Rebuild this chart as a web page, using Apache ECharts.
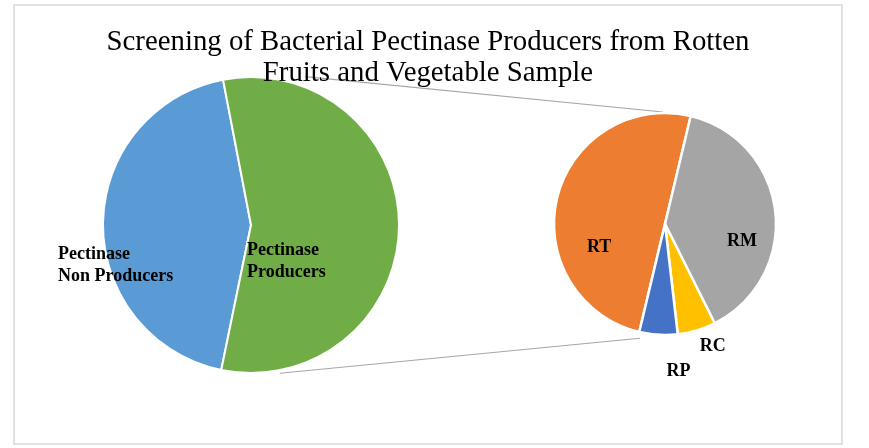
<!DOCTYPE html>
<html>
<head>
<meta charset="utf-8">
<script src="https://cdn.jsdelivr.net/npm/echarts@6/dist/echarts.min.js"></script>
<style>
  html, body { margin: 0; padding: 0; background: #fff; }
  #chart { width: 869px; height: 448px; }
</style>
</head>
<body>
<div id="chart"></div>
<script>
// main pie
var mainNames = ['Pectinase\nNon Producers', 'Pectinase\nProducers'];
var mainValues = [14, 18];
var mainColors = ['#5B9BD5', '#70AD47'];

// second pie (split of producers)
var subNames = ['RT', 'RM', 'RC', 'RP'];
var subValues = [9, 7, 1, 1];
var subColors = ['#ED7D31', '#A5A5A5', '#FFC000', '#4472C4'];

var titleText = 'Screening of Bacterial Pectinase Producers from Rotten\nFruits and Vegetable Sample';

// layout
var bigC = [251, 225], bigR = 148;
var smallC = [665, 224], smallR = 111;
var bigStart = 258.4;   // echarts degrees, first slice starts here going clockwise
var smallStart = 256.6;

// label nudges (from default inside spot) to sit where the reference has them
var mainLabelShift = [[-116, 41], [-81, 36]];
var subLabelShift = [[-9, 37], [19, 24], [31, 66], [17, 89]];

// point on a circle, angle in echarts degrees (ccw from 3 o'clock)
function onCircle(c, r, deg) {
  var a = deg * Math.PI / 180;
  return [c[0] + r * Math.cos(a), c[1] - r * Math.sin(a)];
}

// connector lines between the two pies
var topFrom = onCircle(bigC, bigR + 10, 70);
var botFrom = onCircle(bigC, bigR + 3, -79);
var topTo = onCircle(smallC, smallR + 1, 91);
var botTo = onCircle(smallC, smallR + 6, smallStart + 1);

var mainData = [], subData = [];
for (var i = 0; i < mainNames.length; i++) {
  mainData.push({ name: mainNames[i], value: mainValues[i], itemStyle: { color: mainColors[i] } });
}
for (var j = 0; j < subNames.length; j++) {
  subData.push({ name: subNames[j], value: subValues[j], itemStyle: { color: subColors[j] } });
}

var labelFont = {
  fontFamily: '"Liberation Serif", "Times New Roman", serif',
  fontWeight: 'bold',
  color: '#000'
};

var myChart = echarts.init(document.getElementById('chart'));

var option = {
  animation: false,
  backgroundColor: '#fff',
  title: {
    text: titleText,
    left: 423,
    top: 22,
    textAlign: 'center',
    textStyle: {
      fontFamily: '"Liberation Serif", "Times New Roman", serif',
      fontWeight: 'normal',
      fontSize: 28.8,
      lineHeight: 31,
      color: '#000'
    }
  },
  graphic: [
    {
      type: 'rect', z: -10,
      shape: { x: 14, y: 5, width: 828, height: 439 },
      style: { fill: 'none', stroke: '#D9D9D9', lineWidth: 1.5 }
    },
    {
      type: 'line', z: -5,
      shape: { x1: topFrom[0], y1: topFrom[1], x2: topTo[0], y2: topTo[1] },
      style: { stroke: '#A6A6A6', lineWidth: 1.2 }
    },
    {
      type: 'line', z: -5,
      shape: { x1: botFrom[0], y1: botFrom[1], x2: botTo[0], y2: botTo[1] },
      style: { stroke: '#A6A6A6', lineWidth: 1.2 }
    }
  ],
  series: [
    {
      type: 'pie',
      center: bigC,
      radius: bigR,
      startAngle: bigStart,
      clockwise: true,
      data: mainData,
      itemStyle: { borderColor: '#fff', borderWidth: 2 },
      label: Object.assign({ position: 'inside', fontSize: 18, lineHeight: 22, align: 'left' }, labelFont),
      labelLine: { show: false },
      labelLayout: function (p) {
        var s = mainLabelShift[p.dataIndex];
        return { dx: s[0], dy: s[1], align: 'left' };
      },
      emphasis: { disabled: true }
    },
    {
      type: 'pie',
      center: smallC,
      radius: smallR,
      startAngle: smallStart,
      clockwise: true,
      data: subData,
      itemStyle: { borderColor: '#fff', borderWidth: 2.5 },
      label: Object.assign({ position: 'inside', fontSize: 18 }, labelFont),
      labelLine: { show: false },
      labelLayout: function (p) {
        var s = subLabelShift[p.dataIndex];
        return { dx: s[0], dy: s[1] };
      },
      emphasis: { disabled: true }
    }
  ]
};

myChart.setOption(option);
</script>
</body>
</html>
